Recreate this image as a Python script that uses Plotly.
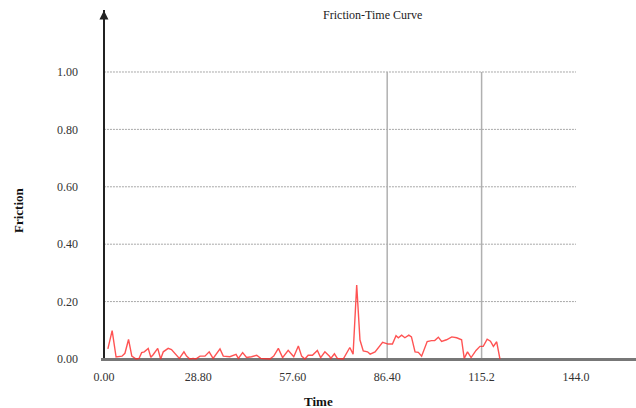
import plotly.graph_objects as go

# ---- data ----
time = [1.2, 2.5, 3.7, 4.8, 5.5, 6.4, 7.5, 8.5, 9.8, 10.7, 11.5, 12.3, 13.5, 14.3, 15.0, 16.4, 17.3, 18.1,
        19.6, 20.6, 22.0, 23.0, 24.4, 25.2, 26.2, 27.2, 28.0, 29.3, 30.8, 32.1, 33.3, 35.4, 36.4, 38.4,
        40.3, 41.0, 42.3, 43.5, 45.0, 46.6, 47.8, 49.1, 50.6, 51.8, 53.2, 54.5, 56.2, 57.5, 57.9, 59.3,
        60.3, 61.3, 62.3, 63.6, 65.1, 66.1, 67.4, 68.8, 69.2, 70.3, 71.2, 73.0, 75.0, 76.0, 77.1, 78.1,
        79.1, 80.4, 81.2, 82.7, 85.0, 86.7, 88.0, 89.1, 89.8, 90.8, 91.8, 93.0, 93.8, 94.9, 95.9, 96.9,
        98.6, 99.9, 100.9, 102.0, 103.0, 104.5, 106.1, 107.6, 109.1, 109.9, 110.9, 112.0, 113.5, 114.7,
        115.7, 116.9, 117.9, 118.8, 119.8, 120.8]
friction = [0.035, 0.099, 0.007, 0.010, 0.010, 0.020, 0.068, 0.010, 0.000, 0.002, 0.022, 0.025, 0.037, 0.006,
            0.015, 0.037, 0.000, 0.025, 0.037, 0.033, 0.013, 0.002, 0.025, 0.010, 0.000, 0.002, 0.000,
            0.010, 0.010, 0.025, 0.002, 0.035, 0.010, 0.008, 0.016, 0.002, 0.022, 0.005, 0.008, 0.013,
            0.002, 0.000, 0.000, 0.010, 0.037, 0.005, 0.030, 0.013, 0.008, 0.045, 0.010, 0.000, 0.013,
            0.013, 0.030, 0.005, 0.025, 0.010, 0.002, 0.018, 0.002, 0.000, 0.040, 0.017, 0.258, 0.066,
            0.028, 0.025, 0.017, 0.025, 0.058, 0.052, 0.052, 0.081, 0.074, 0.083, 0.074, 0.083, 0.077,
            0.025, 0.023, 0.010, 0.061, 0.064, 0.064, 0.076, 0.061, 0.067, 0.077, 0.074, 0.067, 0.002,
            0.025, 0.005, 0.030, 0.044, 0.044, 0.069, 0.062, 0.044, 0.060, 0.000]

x_ticks = [0.0, 28.8, 57.6, 86.4, 115.2, 144.0]
x_tick_labels = ["0.00", "28.80", "57.60", "86.40", "115.2", "144.0"]
y_ticks = [0.0, 0.2, 0.4, 0.6, 0.8, 1.0]
y_tick_labels = ["0.00", "0.20", "0.40", "0.60", "0.80", "1.00"]
v_grid = [86.4, 115.2]

FONT = "Liberation Serif, Times New Roman, serif"
X_RANGE = [-0.9, 162.3]
Y_RANGE = [-0.0035, 1.216]

fig = go.Figure()
fig.add_trace(go.Scatter(x=time, y=friction, mode="lines",
                         line=dict(color="rgba(255,40,40,0.8)", width=1.4),
                         showlegend=False, hoverinfo="x+y"))

shapes = []
for yv in y_ticks[1:]:
    shapes.append(dict(type="line", xref="x", yref="y", x0=0, x1=x_ticks[-1], y0=yv, y1=yv,
                       line=dict(color="#a8a8a8", width=1, dash="2px,1px"), layer="below"))
for xv in v_grid:
    shapes.append(dict(type="line", xref="x", yref="y", x0=xv, x1=xv, y0=0, y1=y_ticks[-1],
                       line=dict(color="#b0b0b0", width=1.5), layer="below"))

annotations = [
    # y axis arrow
    dict(x=0, y=Y_RANGE[1] - 0.002, ax=0, ay=0, xref="x", yref="y", axref="x", ayref="y",
         showarrow=True, arrowhead=2, arrowsize=1.2, arrowwidth=1.5, arrowcolor="#222", text=""),
    dict(text="<b>Time</b>", x=(318 - 101) / 535, y=-(401 - 360) / 350, xref="paper", yref="paper",
         showarrow=False, font=dict(family=FONT, size=13, color="#111"), xanchor="center", yanchor="middle"),
    dict(text="<b>Friction</b>", x=(18 - 101) / 535, y=(360 - 210) / 350, xref="paper", yref="paper",
         showarrow=False, textangle=-90, font=dict(family=FONT, size=13, color="#111"),
         xanchor="center", yanchor="middle"),
]

fig.update_layout(
    width=636, height=408,
    margin=dict(l=101, r=0, t=10, b=48),
    paper_bgcolor="white", plot_bgcolor="white",
    font=dict(family=FONT, size=12, color="#333"),
    title=dict(text="Friction-Time Curve", x=323 / 636, xanchor="center", xref="paper",
               y=1 - 15 / 408, yref="container", yanchor="middle",
               font=dict(family=FONT, size=12, color="#222")),
    xaxis=dict(range=X_RANGE, tickvals=x_ticks, ticktext=x_tick_labels, showgrid=False,
               zeroline=True, zerolinecolor="#222", zerolinewidth=1.5,
               showline=False, ticks="", ticklabelstandoff=8,
               tickfont=dict(family=FONT, size=12, color="#333")),
    yaxis=dict(range=Y_RANGE, tickvals=y_ticks, ticktext=y_tick_labels, showgrid=False,
               zeroline=True, zerolinecolor="#777", zerolinewidth=2.5,
               showline=False, ticks="", ticklabelstandoff=22,
               tickfont=dict(family=FONT, size=12, color="#333")),
    shapes=shapes,
    annotations=annotations,
)

fig.write_html("out.html")
